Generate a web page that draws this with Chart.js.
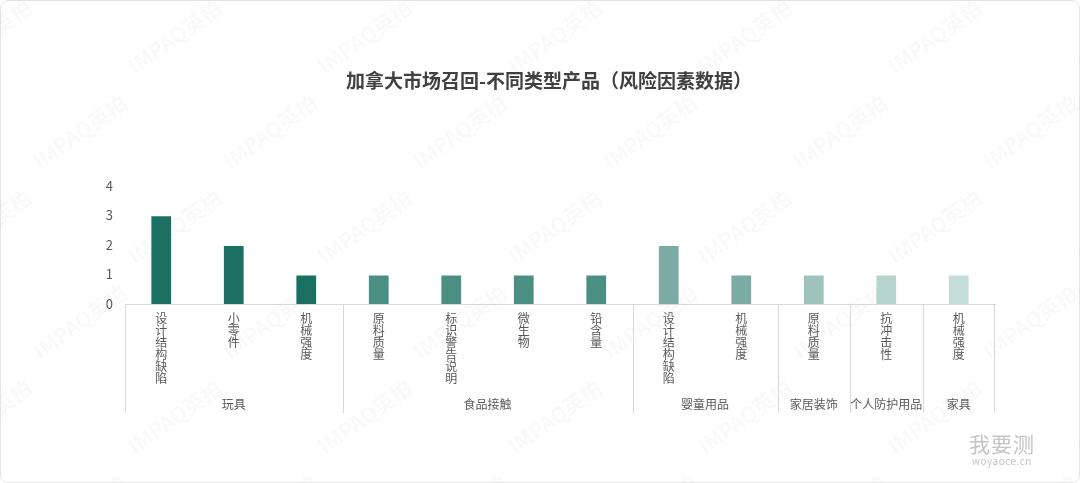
<!DOCTYPE html>
<html>
<head>
<meta charset="utf-8">
<script src="https://cdn.jsdelivr.net/npm/chart.js@4"></script>
<style>
    html, body { margin: 0; padding: 0; background: #fff; }
    #card {
        position: relative;
        width: 1078px;
        height: 481px;
        border: 1px solid #e3e3e3;
        border-radius: 8px;
        overflow: hidden;
        background: #fff;
    }
    #chart { position: absolute; left: -1px; top: -1px; }
    #logo {
        position: absolute;
        left: 968px;
        top: 430px;
        font-family: "Noto Sans CJK SC", sans-serif;
        color: #c4c4c4;
        text-align: center;
    }
    #logo .big { font-size: 21px; line-height: 24px; letter-spacing: 1px; }
    #logo .small { font-size: 10px; line-height: 12px; letter-spacing: 0.5px; }
</style>
</head>
<body>
<div id="card">
    <canvas id="chart" width="1080" height="483"></canvas>
    <div id="logo"><div class="big">我要测</div><div class="small">woyaoce.cn</div></div>
</div>
<script>
// risk factor counts, grouped by product type
const risk_labels = ["设计结构缺陷", "小零件", "机械强度",
                     "原料质量", "标识警告说明", "微生物", "铅含量",
                     "设计结构缺陷", "机械强度",
                     "原料质量",
                     "抗冲击性",
                     "机械强度"];
const risk_groups = ["玩具", "玩具", "玩具",
                     "食品接触", "食品接触", "食品接触", "食品接触",
                     "婴童用品", "婴童用品",
                     "家居装饰",
                     "个人防护用品",
                     "家具"];
const risk_counts = [3, 2, 1, 1, 1, 1, 1, 2, 1, 1, 1, 1];
const y_ticks = [0, 1, 2, 3, 4];

const group_names = ["玩具", "食品接触", "婴童用品", "家居装饰", "个人防护用品", "家具"];
const group_colors = ["#1b7062", "#4a8f81", "#7aaca4", "#9dc3bc", "#b5d4ce", "#c4ddd9"];

const FONT = '"Noto Sans CJK SC", "Noto Sans", sans-serif';

// faint diagonal watermark + white background
const watermark = {
    id: "watermark",
    beforeDraw(chart) {
        const ctx = chart.ctx;
        ctx.save();
        ctx.fillStyle = "#fff";
        ctx.fillRect(0, 0, chart.width, chart.height);
        ctx.fillStyle = "rgba(0,0,0,0.022)";
        ctx.font = "bold 21px " + FONT;
        for (let row = 0; row < 7; row++)
        {
            for (let col = -1; col < 7; col++)
            {
                const x = col * 190 + (row % 2) * 95 + 40;
                const y = row * 95 - 20;
                ctx.save();
                ctx.translate(x, y);
                ctx.rotate(-0.62);
                ctx.fillText("IMPAQ英柏", 0, 0);
                ctx.restore();
            }
        }
        ctx.restore();
    }
};

// group names under the tick labels, with separators between groups
const groupAxis = {
    id: "groupAxis",
    afterDraw(chart) {
        const ctx = chart.ctx;
        const xs = chart.scales.x;
        const top = chart.chartArea.bottom;
        const half = (xs.getPixelForValue(1) - xs.getPixelForValue(0)) / 2;

        ctx.save();
        ctx.strokeStyle = "#d9d9d9";
        ctx.lineWidth = 1;
        ctx.fillStyle = "#595959";
        ctx.font = "12px " + FONT;
        ctx.textAlign = "center";
        ctx.textBaseline = "middle";

        let start = 0;
        for (let i = 1; i <= risk_groups.length; i++)
        {
            if (i < risk_groups.length && risk_groups[i] === risk_groups[start]) continue;
            const left = xs.getPixelForValue(start) - half;
            const right = xs.getPixelForValue(i - 1) + half;
            ctx.beginPath();
            ctx.moveTo(Math.round(left) + 0.5, top);
            ctx.lineTo(Math.round(left) + 0.5, top + 109);
            ctx.stroke();
            if (i === risk_groups.length)
            {
                ctx.beginPath();
                ctx.moveTo(Math.round(right) - 0.5, top);
                ctx.lineTo(Math.round(right) - 0.5, top + 109);
                ctx.stroke();
            }
            ctx.fillText(risk_groups[start], (left + right) / 2, top + 100);
            start = i;
        }
        ctx.restore();
    }
};

const ctx = document.getElementById("chart").getContext("2d");

const riskChart = new Chart(ctx, {
    type: "bar",
    data: {
        labels: risk_labels.map(s => s.split("")),
        datasets: [{
            data: risk_counts,
            backgroundColor: risk_groups.map(g => group_colors[group_names.indexOf(g)]),
            borderColor: "rgba(255,255,255,0.5)",
            borderWidth: 1,
            barPercentage: 0.3,
            categoryPercentage: 1.0
        }]
    },
    options: {
        responsive: false,
        animation: false,
        layout: {
            padding: { left: 103, right: 85, top: 0, bottom: 69 }
        },
        plugins: {
            legend: { display: false },
            tooltip: { enabled: false },
            title: {
                display: true,
                text: "加拿大市场召回-不同类型产品（风险因素数据）",
                color: "#404040",
                font: { family: FONT, size: 19, weight: "bold" },
                padding: { top: 69, bottom: 94 }
            }
        },
        scales: {
            x: {
                grid: { display: false, drawTicks: false },
                border: { display: true, color: "#d9d9d9" },
                ticks: {
                    color: "#595959",
                    font: { family: FONT, size: 12, lineHeight: 1.0 },
                    padding: 8,
                    maxRotation: 0,
                    autoSkip: false
                },
                afterFit(scale) { scale.height = 110; }
            },
            y: {
                min: 0,
                max: 4,
                grid: { display: false, drawTicks: false },
                border: { display: false },
                afterBuildTicks(scale) { scale.ticks = y_ticks.map(v => ({ value: v })); },
                ticks: {
                    color: "#595959",
                    font: { family: FONT, size: 13 },
                    padding: 12
                },
                afterFit(scale) { scale.width = 22; }
            }
        }
    },
    plugins: [watermark, groupAxis]
});
</script>
</body>
</html>
